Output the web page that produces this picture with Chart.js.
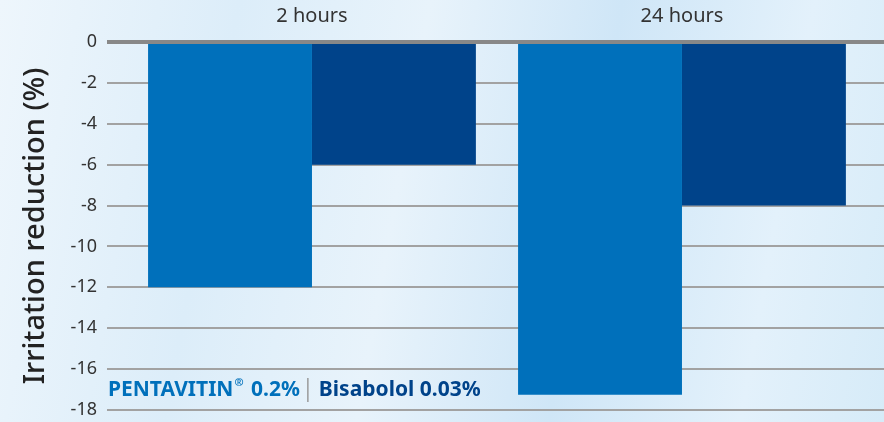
<!DOCTYPE html>
<html>
<head>
<meta charset="utf-8">
<script src="https://cdn.jsdelivr.net/npm/chart.js@4/dist/chart.umd.min.js"></script>
<style>
html,body{margin:0;padding:0;}
body{width:884px;height:422px;overflow:hidden;
background:linear-gradient(100deg,#eef6fc 0%,#dcedf9 25%,#e8f3fb 45%,#cfe6f7 65%,#e3f1fb 85%,#d6ebf8 100%);}
#wrap{position:relative;width:884px;height:422px;}
</style>
</head>
<body>
<div id="wrap"><canvas id="c" width="884" height="422"></canvas></div>
<script>
const categories = ["2 hours", "24 hours"];
const seriesNames = ["PENTAVITIN® 0.2%", "Bisabolol 0.03%"];
const pentavitin = [-12, -17.25];
const bisabolol = [-6, -8];
const yTicks = [0, -2, -4, -6, -8, -10, -12, -14, -16, -18];
const colors = ["#0070bb", "#00438a"];

const toPoints = arr => arr.map((v, i) => ({x: i, y: v}));

const legendPlugin = {
  id: 'legendText',
  afterDraw(chart) {
    const ctx = chart.ctx;
    ctx.save();
    const big = 'bold 21px "Noto Sans", sans-serif';
    ctx.font = big;
    ctx.textBaseline = 'middle';
    let x = 108, y = 390;
    ctx.fillStyle = colors[0];
    ctx.fillText('PENTAVITIN', x, y);
    x += ctx.measureText('PENTAVITIN').width;
    ctx.font = 'bold 11px "Noto Sans", sans-serif';
    ctx.fillText('®', x + 1, y - 7);
    x += ctx.measureText('®').width + 3;
    ctx.font = big;
    ctx.fillText(' 0.2%', x, y);
    x += ctx.measureText(' 0.2%').width + 8;
    ctx.strokeStyle = '#9a9a9a';
    ctx.lineWidth = 1.5;
    ctx.beginPath(); ctx.moveTo(x, y - 12); ctx.lineTo(x, y + 12); ctx.stroke();
    x += 11;
    ctx.fillStyle = colors[1];
    ctx.fillText('Bisabolol 0.03%', x, y);
    ctx.restore();
  }
};

new Chart(document.getElementById('c'), {
  type: 'bar',
  data: {
    datasets: [
      {label: seriesNames[0], data: toPoints(pentavitin), backgroundColor: colors[0], categoryPercentage: 0.886, barPercentage: 1},
      {label: seriesNames[1], data: toPoints(bisabolol), backgroundColor: colors[1], categoryPercentage: 0.886, barPercentage: 1}
    ]
  },
  options: {
    responsive: false,
    animation: false,
    layout: {padding: {left: 0, right: 0, top: 0, bottom: 12}},
    plugins: {legend: {display: false}, tooltip: {enabled: false}},
    scales: {
      x: {
        type: 'linear',
        position: 'top',
        offset: false,
        min: -0.554,
        max: 1.546,
        afterBuildTicks: s => { s.ticks = categories.map((c, i) => ({value: i})); },
        afterFit: s => { s.height = 42; },
        ticks: {
          callback: (v) => categories[v] ?? '',
          color: '#333', font: {size: 20, family: '"Noto Sans", sans-serif'},
          padding: 6, maxRotation: 0
        },
        grid: {display: false},
        border: {display: false}
      },
      y: {
        min: -18, max: 0,
        afterBuildTicks: s => { s.ticks = yTicks.map(v => ({value: v})); },
        afterFit: s => { s.width = 107; s.paddingTop = 0; s.paddingBottom = 0; },
        ticks: {color: '#333', font: {size: 18, family: '"Noto Sans", sans-serif'}, padding: 10},
        grid: {
          color: ctx => ctx.tick && ctx.tick.value === 0 ? '#888888' : '#a2a2a2',
          lineWidth: ctx => ctx.tick && ctx.tick.value === 0 ? 4 : 2,
          drawTicks: false
        },
        border: {display: false},
        title: {
          display: true, text: 'Irritation reduction (%)',
          color: '#222', font: {size: 29, family: '"Noto Sans", sans-serif', weight: '500'},
          padding: {top: 18, bottom: 0}
        }
      }
    }
  },
  plugins: [legendPlugin]
});
</script>
</body>
</html>
